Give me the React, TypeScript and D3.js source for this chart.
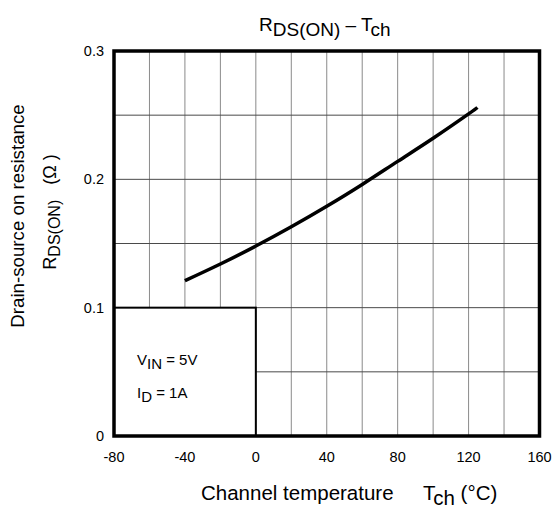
import React from "react";
import * as d3 from "d3";

const temps = [-40, -20, 0, 20, 40, 60, 80, 100, 120, 125];
const rds = [0.121, 0.134, 0.148, 0.163, 0.179, 0.196, 0.214, 0.232, 0.251, 0.256];
const xTicks = [-80, -40, 0, 40, 80, 120, 160];
const yTicks = [0, 0.1, 0.2, 0.3];
const xGrid = [-60, -40, -20, 0, 20, 40, 60, 80, 100, 120, 140];
const yGrid = [0.05, 0.1, 0.15, 0.2, 0.25];
const boxX = [-80, 0];
const boxY = [0, 0.1];

const FONT = "'Liberation Sans', Arial, sans-serif";

export default function App() {
  const W = 555, H = 513;
  const x = d3.scaleLinear().domain([-80, 160]).range([114, 539.5]);
  const y = d3.scaleLinear().domain([0, 0.3]).range([436, 51]);
  const pts: [number, number][] = temps.map((t, i) => [t, rds[i]]);
  const line = d3
    .line<[number, number]>()
    .x((d) => x(d[0]))
    .y((d) => y(d[1]))
    .curve(d3.curveNatural);

  const bx0 = x(boxX[0]), bx1 = x(boxX[1]);
  const by0 = y(boxY[1]), by1 = y(boxY[0]);

  return (
    <svg
      width={W}
      height={H}
      style={{ position: "absolute", left: 0, top: 0, background: "#fff" }}
      fontFamily={FONT}
    >
      <rect x={0} y={0} width={W} height={H} fill="#fff" />
      {xGrid.map((g) => (
        <line key={"vx" + g} x1={x(g)} x2={x(g)} y1={y(0.3)} y2={y(0)} stroke="#8a8a8a" strokeWidth={1} />
      ))}
      {yGrid.map((g) => (
        <line key={"hy" + g} x1={x(-80)} x2={x(160)} y1={y(g)} y2={y(g)} stroke="#4a4a4a" strokeWidth={1} />
      ))}
      <rect x={bx0} y={by0} width={bx1 - bx0} height={by1 - by0} fill="#fff" stroke="#000" strokeWidth={2} />
      <path d={line(pts) || ""} fill="none" stroke="#000" strokeWidth={3.5} />
      <rect
        x={x(-80)}
        y={y(0.3)}
        width={x(160) - x(-80)}
        height={y(0) - y(0.3)}
        fill="none"
        stroke="#000"
        strokeWidth={3.5}
      />
      {xTicks.map((t) => (
        <text key={"xt" + t} x={x(t)} y={462} textAnchor="middle" fontSize={14.5} fill="#000">
          {t}
        </text>
      ))}
      {yTicks.map((t) => (
        <text key={"yt" + t} x={104} y={y(t) + 5} textAnchor="end" fontSize={14.5} fill="#000">
          {t === 0 ? "0" : t.toFixed(1)}
        </text>
      ))}
      <text x={259} y={31} fontSize={19} fill="#000">
        R<tspan dy={5}>DS(ON)</tspan>
        <tspan dy={-5}> – T</tspan>
        <tspan dy={5}>ch</tspan>
      </text>
      <text x={201} y={500} fontSize={20.5} fill="#000">
        Channel temperature
        <tspan x={423}>T</tspan>
        <tspan dy={5}>ch</tspan>
        <tspan dy={-5}> (°C)</tspan>
      </text>
      <text transform="translate(24,216) rotate(-90)" textAnchor="middle" fontSize={18.7} fill="#000">
        Drain-source on resistance
      </text>
      <text transform="translate(56,212) rotate(-90)" textAnchor="middle" fontSize={18} fill="#000">
        R<tspan dy={4} fontSize={16}>DS(ON)</tspan>
        <tspan dy={-4}>{"\u00a0\u00a0\u00a0(Ω )"}</tspan>
      </text>
      <text x={137} y={365} fontSize={15} fill="#000">
        V<tspan dy={4}>IN</tspan>
        <tspan dy={-4}> = 5V</tspan>
      </text>
      <text x={137} y={398} fontSize={15} fill="#000">
        I<tspan dy={4}>D</tspan>
        <tspan dy={-4}> = 1A</tspan>
      </text>
    </svg>
  );
}
